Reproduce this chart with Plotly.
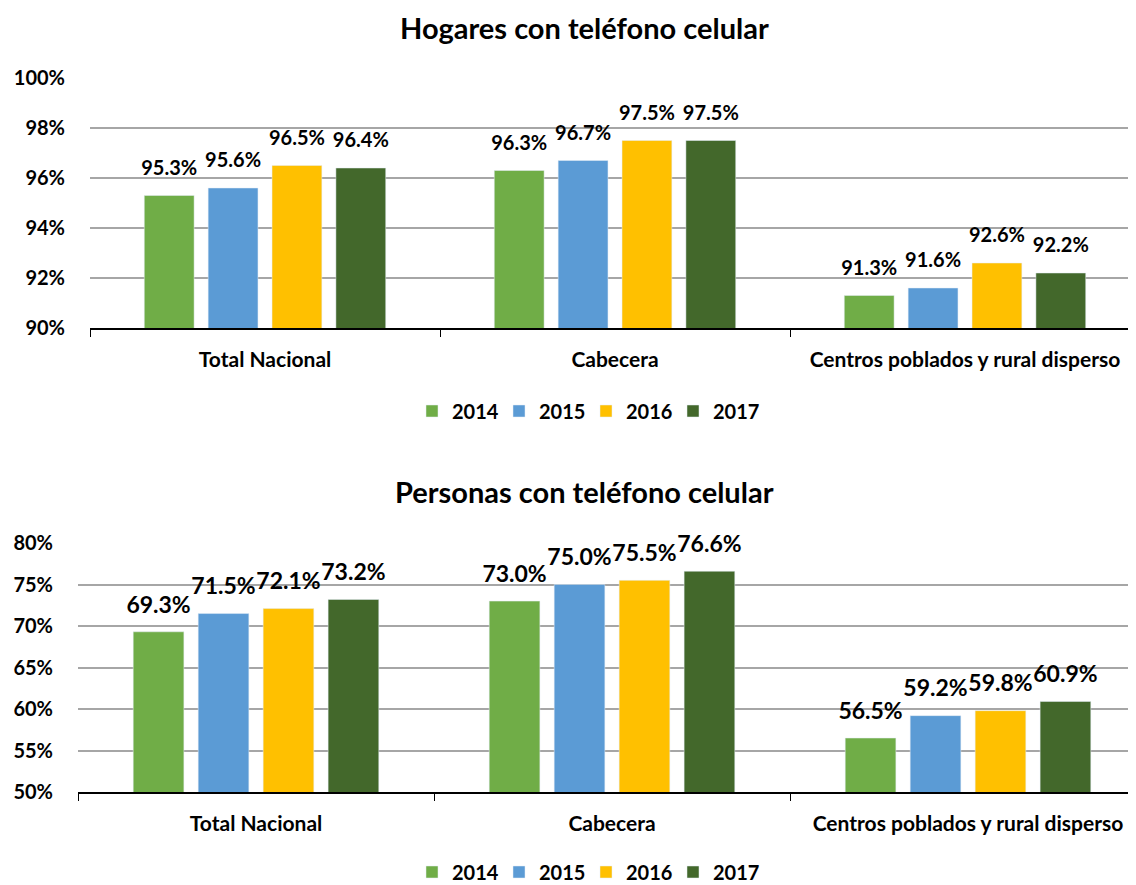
import plotly.graph_objects as go

categories = ["Total Nacional", "Cabecera", "Centros poblados y rural disperso"]
years = ["2014", "2015", "2016", "2017"]
colors = ["#70AD47", "#5B9BD5", "#FFC000", "#43682B"]

hogares = {
    "2014": [95.3, 96.3, 91.3],
    "2015": [95.6, 96.7, 91.6],
    "2016": [96.5, 97.5, 92.6],
    "2017": [96.4, 97.5, 92.2],
}
personas = {
    "2014": [69.3, 73.0, 56.5],
    "2015": [71.5, 75.0, 59.2],
    "2016": [72.1, 75.5, 59.8],
    "2017": [73.2, 76.6, 60.9],
}

FONT = "Lato"
# page has an 8px body margin; figure coordinates = page coordinates - 8
OFF = 8
W, H = 1136 - OFF, 885 - OFF


def px(x):
    return (x - OFF) / W


def py(y):
    return 1 - (y - OFF) / H


top_label_font = dict(size=20, color="black", family=FONT, weight="bold")
bot_label_font = dict(size=23, color="black", family=FONT, weight="bold")

fig = go.Figure()


def add_panel(data, xa, ya, leg, lfont, msize):
    for i, yr in enumerate(years):
        fig.add_trace(go.Bar(
            x=categories, y=data[yr], name=yr, marker_color=colors[i],
            offsetgroup=yr, xaxis=xa, yaxis=ya, legend=leg,
        ))
    for i, yr in enumerate(years):
        fig.add_trace(go.Scatter(
            x=categories, y=data[yr], mode="markers+text",
            text=[f"{v:.1f}%" for v in data[yr]], textposition="top center",
            textfont=lfont, marker=dict(size=msize, opacity=0),
            offsetgroup=yr, cliponaxis=False, showlegend=False, hoverinfo="skip",
            xaxis=xa, yaxis=ya,
        ))


add_panel(hogares, "x", "y", "legend", top_label_font, 24)
add_panel(personas, "x2", "y2", "legend2", bot_label_font, 20)

xfont = dict(size=21, color="black", family=FONT, weight="bold")
yfont = dict(size=20, color="black", family=FONT, weight="bold")
legfont = dict(size=20, family=FONT, weight="bold", color="black")
titlefont = dict(size=29, family=FONT, weight="bold", color="black")

fig.update_layout(
    width=W, height=H,
    margin=dict(l=0, r=0, t=0, b=0, autoexpand=False),
    paper_bgcolor="white", plot_bgcolor="white",
    barmode="group", bargap=0.27, bargroupgap=0.22,
    scattermode="group", scattergap=0.27,
    font=dict(family=FONT, color="black"),
    xaxis=dict(
        domain=[px(90), 1.0], range=[-0.5, 2.5 - 4 / 350],
        showline=True, linecolor="black", linewidth=1.5,
        ticks="outside", tickson="boundaries", ticklen=7, tickcolor="black",
        tickfont=xfont, anchor="y", showgrid=False, automargin=False,
        ticklabelstandoff=12,
    ),
    yaxis=dict(
        domain=[py(328), py(78)], range=[90, 100], dtick=2,
        ticksuffix="%", tickfont=yfont, gridcolor="#A6A6A6", gridwidth=1.5,
        showline=False, zeroline=False, anchor="x", ticklabelstandoff=24,
        automargin=False,
    ),
    xaxis2=dict(
        domain=[px(78), 1.0], range=[-0.5, -0.5 + (1136 - 78) / 356],
        showline=True, linecolor="black", linewidth=1.5,
        ticks="outside", tickson="boundaries", ticklen=7, tickcolor="black",
        tickfont=xfont, anchor="y2", showgrid=False, automargin=False,
        ticklabelstandoff=12,
    ),
    yaxis2=dict(
        domain=[py(792), py(543)], range=[50, 80], dtick=5,
        ticksuffix="%", tickfont=yfont, gridcolor="#A6A6A6", gridwidth=1.5,
        showline=False, zeroline=False, anchor="x2", ticklabelstandoff=24,
        automargin=False,
    ),
    legend=dict(
        orientation="h", x=px(586), xanchor="center", y=py(411), yanchor="middle",
        font=legfont, traceorder="normal", itemwidth=30,
        entrywidth=42, entrywidthmode="pixels",
    ),
    legend2=dict(
        orientation="h", x=px(586), xanchor="center", y=py(872), yanchor="middle",
        font=legfont, traceorder="normal", itemwidth=30,
        entrywidth=42, entrywidthmode="pixels",
    ),
    annotations=[
        dict(text="Hogares con teléfono celular", x=px(585), y=py(27),
             xref="paper", yref="paper", showarrow=False, xanchor="center", yanchor="middle",
             font=titlefont),
        dict(text="Personas con teléfono celular", x=px(585), y=py(492),
             xref="paper", yref="paper", showarrow=False, xanchor="center", yanchor="middle",
             font=titlefont),
    ],
)

fig.write_html("out.html")
